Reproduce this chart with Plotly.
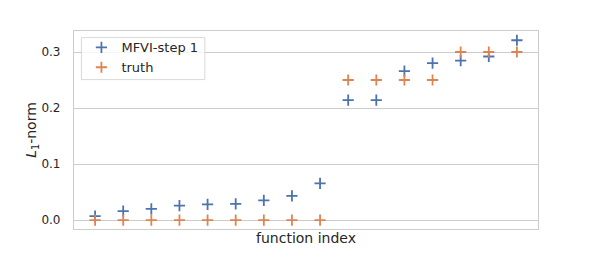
import plotly.graph_objects as go

idx = list(range(16))
mfvi = [0.0071, 0.016, 0.020, 0.0257, 0.028, 0.029, 0.035, 0.043, 0.0655,
        0.214, 0.214, 0.266, 0.280, 0.2846, 0.292, 0.321]
truth = [0, 0, 0, 0, 0, 0, 0, 0, 0, 0.25, 0.25, 0.25, 0.25, 0.3, 0.3, 0.3]
yticks = [0.0, 0.1, 0.2, 0.3]
ytick_text = ["0.0", "0.1", "0.2", "0.3"]

BLUE = "#4C72B0"
ORANGE = "#DD8452"
FONT = "DejaVu Sans"

fig = go.Figure()
fig.add_trace(go.Scatter(
    x=idx, y=mfvi, mode="markers", name="MFVI-step 1",
    marker=dict(symbol="cross-thin", size=8, line=dict(width=1.8, color=BLUE), color=BLUE),
))
fig.add_trace(go.Scatter(
    x=idx, y=truth, mode="markers", name="truth",
    marker=dict(symbol="cross-thin", size=8, line=dict(width=1.8, color=ORANGE), color=ORANGE),
))

# legend frame (drawn as a shape so its padding matches the reference)
fig.add_shape(
    type="rect", xref="paper", yref="paper",
    x0=0.016, x1=0.282, y0=0.7545, y1=0.9667,
    line=dict(color="#d9d9d9", width=1), fillcolor="rgba(255,255,255,0.8)",
    layer="above",
)

# page body has an 8px margin, so the figure is offset by 8px
fig.update_layout(
    width=590, height=249,
    margin=dict(l=66, r=60, t=23, b=28),
    paper_bgcolor="white", plot_bgcolor="white",
    font=dict(family=FONT, size=12, color="#262626"),
    showlegend=True,
    legend=dict(
        x=0.016, y=0.993, xanchor="left", yanchor="top",
        bgcolor="rgba(0,0,0,0)", borderwidth=0,
        font=dict(family=FONT, size=13, color="#262626"),
        itemwidth=30, tracegroupgap=0,
    ),
    xaxis=dict(
        range=[-0.75, 15.75], showticklabels=False, showgrid=False, zeroline=False,
        showline=True, mirror=True, linecolor="#cccccc", linewidth=1.2, ticks="",
        automargin=False,
        title=dict(text="function index", font=dict(family=FONT, size=14, color="#262626"), standoff=4),
    ),
    yaxis=dict(
        range=[-0.016, 0.3375], tickvals=yticks, ticktext=ytick_text,
        showgrid=True, gridcolor="#cccccc", gridwidth=1, zeroline=False,
        showline=True, mirror=True, linecolor="#cccccc", linewidth=1.2,
        ticks="", ticklabelstandoff=10, automargin=False,
        tickfont=dict(family=FONT, size=12, color="#262626"),
        title=dict(text="<i>L</i><sub>1</sub>-norm", font=dict(family=FONT, size=14, color="#262626"), standoff=1),
    ),
)

fig.write_html("out.html")
